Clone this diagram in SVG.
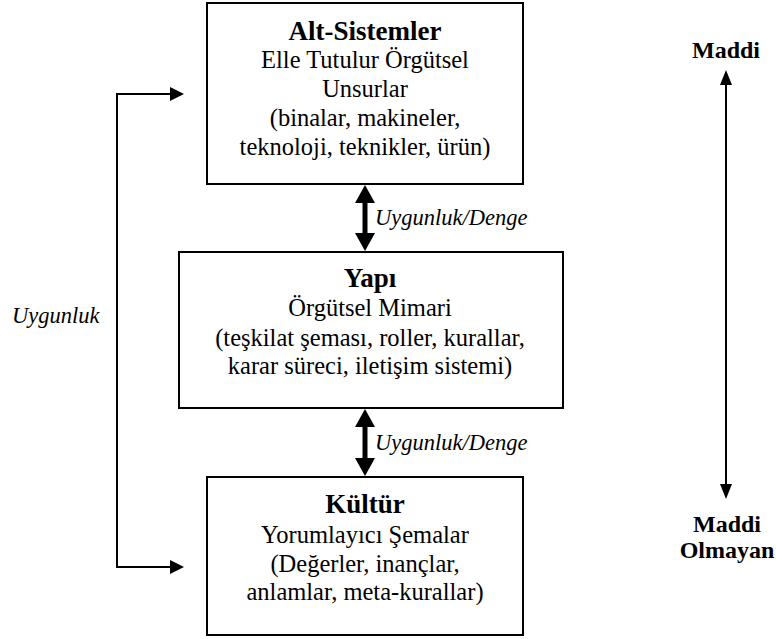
<svg xmlns="http://www.w3.org/2000/svg" width="776" height="639" viewBox="0 0 776 639" font-family="'Liberation Serif', 'Times New Roman', Tinos, 'DejaVu Serif', serif">
<style>
text{font-family:'Liberation Serif','Times New Roman',Tinos,'DejaVu Serif',serif;fill:#000}
.box{fill:#fff;stroke:#000;stroke-width:2}
.t{font-size:24.5px;text-anchor:middle}
.h{font-size:27px;font-weight:bold;text-anchor:middle}
.lab{font-size:22.5px;font-style:italic}
.side{font-size:24px;font-weight:bold;text-anchor:middle}
.thin{fill:none;stroke:#000;stroke-width:2}
.thick{fill:none;stroke:#000;stroke-width:5}
</style>
<rect width="776" height="639" fill="#fff"/>
<g id="connectors">
  <polyline class="thin" points="171,94 117,94 117,567 171,567"/>
  <polygon points="184,94 170,87 170,101"/>
  <polygon points="184,567 170,560 170,574"/>
  <line class="thick" x1="365" y1="200" x2="365" y2="236"/>
  <polygon points="365,185 355,203 375,203"/>
  <polygon points="365,251 355,233 375,233"/>
  <line class="thick" x1="365" y1="424" x2="365" y2="461"/>
  <polygon points="365,409 355,427 375,427"/>
  <polygon points="365,476 355,458 375,458"/>
  <line class="thin" x1="726" y1="82" x2="726" y2="487"/>
  <polygon points="726,70 720,85 732,85"/>
  <polygon points="726,499 720,484 732,484"/>
  <text class="lab" x="375" y="225">Uygunluk/Denge</text>
  <text class="lab" x="375" y="450">Uygunluk/Denge</text>
  <text class="lab" x="12" y="323">Uygunluk</text>
</g>
<g id="alt-sistemler">
  <rect class="box" x="207" y="3" width="316" height="181"/>
  <text class="h" x="365" y="40">Alt-Sistemler</text>
  <text class="t" x="365" y="68">Elle Tutulur Örgütsel</text>
  <text class="t" x="365" y="97">Unsurlar</text>
  <text class="t" x="365" y="126">(binalar, makineler,</text>
  <text class="t" x="365" y="155">teknoloji, teknikler, ürün)</text>
</g>
<g id="yapi">
  <rect class="box" x="179" y="252" width="384" height="156"/>
  <text class="h" x="370" y="287">Yapı</text>
  <text class="t" x="370" y="316">Örgütsel Mimari</text>
  <text class="t" x="370" y="346">(teşkilat şeması, roller, kurallar,</text>
  <text class="t" x="370" y="374">karar süreci, iletişim sistemi)</text>
</g>
<g id="kultur">
  <rect class="box" x="207" y="477" width="316" height="158"/>
  <text class="h" x="365" y="513">Kültür</text>
  <text class="t" x="365" y="543">Yorumlayıcı Şemalar</text>
  <text class="t" x="365" y="572">(Değerler, inançlar,</text>
  <text class="t" x="365" y="600">anlamlar, meta-kurallar)</text>
</g>
<g id="maddi">
  <text class="side" x="726" y="58">Maddi</text>
</g>
<g id="maddi-olmayan">
  <text class="side" x="727" y="532">Maddi</text>
  <text class="side" x="727" y="558">Olmayan</text>
</g>
</svg>
